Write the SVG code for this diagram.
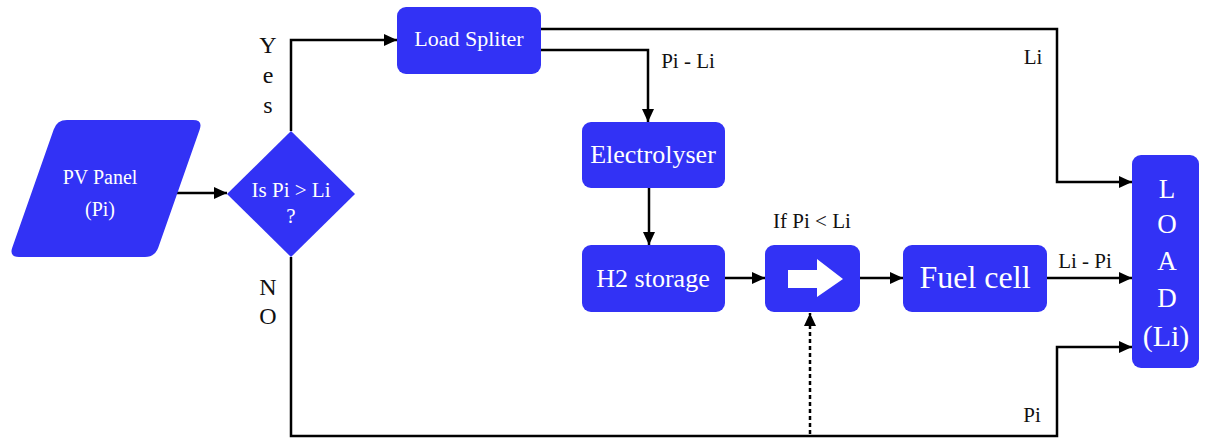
<svg xmlns="http://www.w3.org/2000/svg" width="1205" height="439" viewBox="0 0 1205 439">
<defs>
<style>
.n{fill:#3232f5}
.c{fill:none;stroke:#000;stroke-width:2.5}
.a{marker-end:url(#ah)}
</style>
<marker id="ah" markerUnits="userSpaceOnUse" markerWidth="14" markerHeight="12" refX="13" refY="6" orient="auto">
<path d="M0,0 L13,6 L0,12 z" fill="#000"/>
</marker>
</defs>
<rect width="1205" height="439" fill="#fff"/>
<g id="connectors">
<path class="c a" d="M177,193 H227"/>
<path class="c a" d="M291,131 V40 H397"/>
<path class="c a" d="M541,29 H1057 V182 H1132"/>
<path class="c a" d="M541,50 H648 V122"/>
<path class="c a" d="M649,188 V245"/>
<path class="c a" d="M725,278 H765"/>
<path class="c a" d="M860,278 H903"/>
<path class="c a" d="M1047,278 H1132"/>
<path class="c a" d="M291,257 V436 H1057 V347 H1132"/>
<path class="c a" d="M810,434 V313" stroke-dasharray="4,3"/>
</g>
<g id="labels">
<text font-family="Liberation Serif" fill="#111" text-anchor="middle" x="268" y="53" font-size="24">Y</text>
<text font-family="Liberation Serif" fill="#111" text-anchor="middle" x="268" y="83" font-size="24">e</text>
<text font-family="Liberation Serif" fill="#111" text-anchor="middle" x="268" y="113" font-size="24">s</text>
<text font-family="Liberation Serif" fill="#111" text-anchor="middle" x="268" y="295" font-size="24">N</text>
<text font-family="Liberation Serif" fill="#111" text-anchor="middle" x="268" y="324" font-size="24">O</text>
<text font-family="Liberation Serif" fill="#111" text-anchor="middle" x="688" y="68" font-size="21">Pi - Li</text>
<text font-family="Liberation Serif" fill="#111" text-anchor="middle" x="1033" y="64" font-size="21">Li</text>
<text font-family="Liberation Serif" fill="#111" text-anchor="middle" x="812" y="228" font-size="21">If Pi &lt; Li</text>
<text font-family="Liberation Serif" fill="#111" text-anchor="middle" x="1085" y="268" font-size="21">Li - Pi</text>
<text font-family="Liberation Serif" fill="#111" text-anchor="middle" x="1032" y="422" font-size="21">Pi</text>
</g>
<g id="pv-panel">
<path class="n" d="M67,120 L193,120 Q203,120 199.7,129.4 L158.3,247.6 Q155,257 145,257 L19,257 Q9,257 12.3,247.6 L53.7,129.4 Q57,120 67,120 Z"/>
<text font-family="Liberation Serif" fill="#fff" text-anchor="middle" x="100" y="184" font-size="20">PV Panel</text>
<text font-family="Liberation Serif" fill="#fff" text-anchor="middle" x="100" y="216" font-size="20">(Pi)</text>
</g>
<g id="decision">
<polygon class="n" points="291,131 355,194 291,257 227,194"/>
<text font-family="Liberation Serif" fill="#fff" text-anchor="middle" x="291" y="197" font-size="21">Is Pi &gt; Li</text>
<text font-family="Liberation Serif" fill="#fff" text-anchor="middle" x="291" y="223" font-size="21">?</text>
</g>
<g id="load-spliter">
<rect class="n" x="397" y="7" width="144" height="67" rx="9"/>
<text font-family="Liberation Serif" fill="#fff" text-anchor="middle" x="469" y="46" font-size="22">Load Spliter</text>
</g>
<g id="electrolyser">
<rect class="n" x="582" y="122" width="143" height="66" rx="9"/>
<text font-family="Liberation Serif" fill="#fff" text-anchor="middle" x="653" y="163" font-size="26">Electrolyser</text>
</g>
<g id="h2-storage">
<rect class="n" x="582" y="245" width="143" height="67" rx="9"/>
<text font-family="Liberation Serif" fill="#fff" text-anchor="middle" x="653" y="287" font-size="26">H2 storage</text>
</g>
<g id="switch">
<rect class="n" x="765" y="245" width="95" height="67" rx="9"/>
<path d="M788,270 H817 V259 L843,279 L817,297 V288 H788 Z" fill="#fff"/>
</g>
<g id="fuel-cell">
<rect class="n" x="903" y="245" width="144" height="67" rx="9"/>
<text font-family="Liberation Serif" fill="#fff" text-anchor="middle" x="975" y="288" font-size="32">Fuel cell</text>
</g>
<g id="load">
<rect class="n" x="1132" y="155" width="67" height="213" rx="9"/>
<text font-family="Liberation Serif" fill="#fff" text-anchor="middle" x="1167" y="198" font-size="27">L</text>
<text font-family="Liberation Serif" fill="#fff" text-anchor="middle" x="1167" y="233" font-size="27">O</text>
<text font-family="Liberation Serif" fill="#fff" text-anchor="middle" x="1167" y="270" font-size="27">A</text>
<text font-family="Liberation Serif" fill="#fff" text-anchor="middle" x="1167" y="307" font-size="27">D</text>
<text font-family="Liberation Serif" fill="#fff" text-anchor="middle" x="1166" y="346" font-size="30">(Li)</text>
</g>
</svg>
